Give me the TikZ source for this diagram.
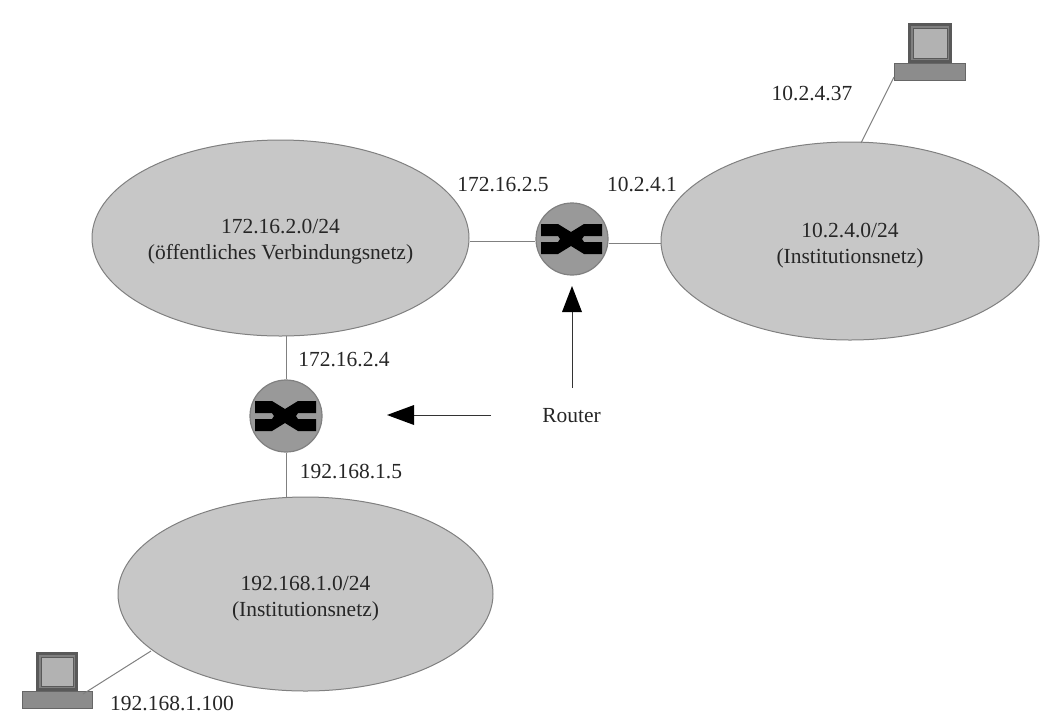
\documentclass[tikz,border=0pt]{standalone}
\usepackage{fontspec}
\setmainfont{Liberation Serif}
\usetikzlibrary{shapes.geometric}
\definecolor{netgray}{gray}{0.78}
\definecolor{routergray}{gray}{0.6}
\definecolor{linegray}{gray}{0.5}
\tikzset{
  x=1pt,y=-1pt,
  net/.style={ellipse,draw=linegray,line width=1pt,fill=netgray,inner sep=0pt,align=center,font=\fontsize{21.5}{26}\selectfont,text=black!85},
  routerbox/.style={circle,draw=linegray,line width=1.2pt,fill=routergray,minimum size=72pt,inner sep=0pt},
  lab/.style={inner sep=0pt,font=\fontsize{21.5}{26}\selectfont,text=black!85},
  link/.style={draw=linegray,line width=1pt},
  pointer/.style={line width=1pt,draw=black!80},
  screenbox/.style={draw=black!65,line width=3pt,fill=black!50,inner sep=0pt},
  screenface/.style={draw=black!65,line width=.8pt,fill=black!30},
  basebox/.style={draw=black!60,line width=1pt,fill=black!45,inner sep=0pt}
}
\newcommand{\routersym}[1]{%
  \fill[black] ([shift={(-31,-15)}]#1.center) -- ([shift={(-14,-15)}]#1.center) -- ([shift={(-1,-7)}]#1.center) -- ([shift={(12,-15)}]#1.center) -- ([shift={(30,-15)}]#1.center) -- ([shift={(30,-3)}]#1.center) -- ([shift={(12,-3)}]#1.center) -- ([shift={(10,0)}]#1.center) -- ([shift={(12,3)}]#1.center) -- ([shift={(30,3)}]#1.center) -- ([shift={(30,15)}]#1.center) -- ([shift={(12,15)}]#1.center) -- ([shift={(-1,7)}]#1.center) -- ([shift={(-14,15)}]#1.center) -- ([shift={(-31,15)}]#1.center) -- ([shift={(-31,3)}]#1.center) -- ([shift={(-14,3)}]#1.center) -- ([shift={(-12,0)}]#1.center) -- ([shift={(-14,-3)}]#1.center) -- ([shift={(-31,-3)}]#1.center) -- cycle;}
\begin{document}
\begin{tikzpicture}
\useasboundingbox (0,0) rectangle (1062,724);
\node[net,minimum width=377pt,minimum height=196pt] (n1) at (280.5,238) {\rule{0pt}{21pt}172.16.2.0/24\\(öffentliches Verbindungsnetz)};
\node[net,minimum width=378pt,minimum height=198pt] (n2) at (850,241) {\rule{0pt}{23pt}10.2.4.0/24\\(Institutionsnetz)};
\node[net,minimum width=375pt,minimum height=194pt] (n3) at (305.5,594) {\rule{0pt}{24pt}192.168.1.0/24\\(Institutionsnetz)};
\node[routerbox] (r1) at (572,239) {};
\node[routerbox] (r2) at (286,416) {};
\routersym{r1}
\routersym{r2}
\coordinate (h1) at (0,241);
\coordinate (h2) at (0,243);
\draw[link] (n1.east |- h1) -- (r1.west |- h1);
\draw[link] (r1.east |- h2) -- (n2.west |- h2);
\coordinate (n1b) at (286,336);
\coordinate (n3t) at (286,498);
\draw[link] (n1b) -- (r2.north);
\draw[link] (r2.south) -- (n3t);
% computers
\node[screenbox,minimum width=41pt,minimum height=37pt] (s1) at (930,43) {};
\draw[screenface] (913,28) rectangle (947,58);
\node[basebox,minimum width=71pt,minimum height=17pt] (b1) at (930,72) {};
\node[screenbox,minimum width=39pt,minimum height=36pt] (s2) at (57,671.5) {};
\draw[screenface] (41,657) rectangle (73,686);
\node[basebox,minimum width=70pt,minimum height=17pt] (b2) at (57.5,700) {};
\coordinate (c1) at (894,77);
\coordinate (e1) at (861,143);
\coordinate (c2) at (83,694);
\coordinate (e2) at (151,651);
\draw[link] (c1) -- (e1);
\draw[link] (c2) -- (e2);
% labels
\node[lab] (l1) at (503,185) {172.16.2.5};
\node[lab] (l2) at (642,184) {10.2.4.1};
\node[lab] (l3) at (812,93) {10.2.4.37};
\node[lab] (l4) at (344,360) {172.16.2.4};
\node[lab] (l5) at (351,471) {192.168.1.5};
\node[lab] (l6) at (172,703) {192.168.1.100};
\node[lab] (rt) at (571.5,416) {Router};
% pointers
\coordinate (p1s) at (572,388);
\coordinate (p1e) at (572,286);
\coordinate (p2s) at (491,415);
\coordinate (p2e) at (387,415);
\draw[pointer] (p1s) -- (572,310);
\fill[black] (p1e) -- (582,312) -- (562,312) -- cycle;
\draw[pointer] (p2s) -- (412,415);
\fill[black] (p2e) -- (414,405) -- (414,425) -- cycle;
\end{tikzpicture}
\end{document}
